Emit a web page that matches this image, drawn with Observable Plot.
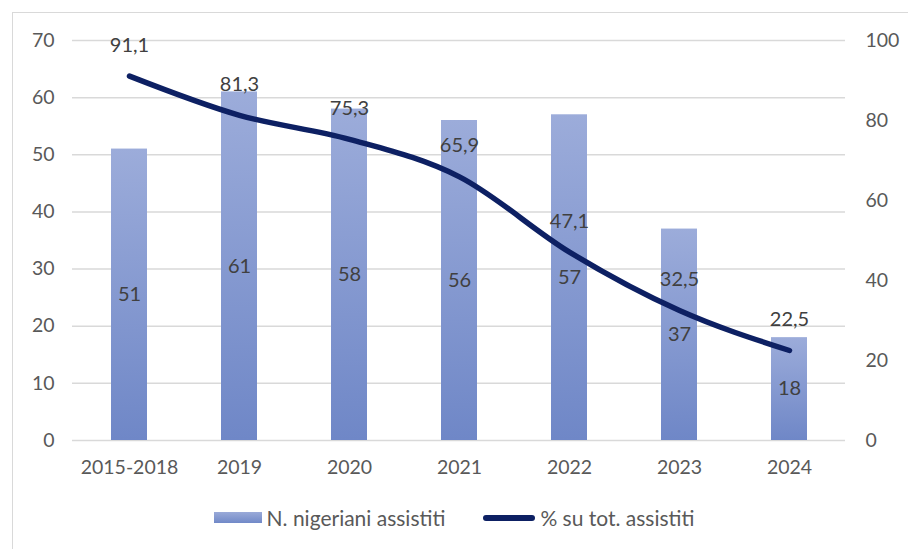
<!DOCTYPE html>
<html>
<head>
<meta charset="utf-8">
<script src="https://cdn.jsdelivr.net/npm/d3@7"></script>
<script src="https://cdn.jsdelivr.net/npm/@observablehq/plot@0.6"></script>
<style>
  html, body { margin: 0; padding: 0; background: #fff; }
  body { width: 908px; height: 549px; overflow: hidden; position: relative; font-family: Lato, "Open Sans", sans-serif; }
  #frame { position: absolute; left: 12px; top: 12px; width: 910px; height: 560px; border: 1.5px solid #d9d9d9; box-sizing: border-box; }
  #chart { position: absolute; left: 0; top: 0; }
  #legend { position: absolute; left: 0; top: 505px; width: 908px; display: flex; justify-content: center; align-items: center; font-size: 21px; color: #595959; }
  .item { display: flex; align-items: center; margin: 0 19px; }
  .sw-bar { width: 48px; height: 11px; background: linear-gradient(#9aaad8, #7189c8); margin-right: 5px; }
  .sw-line { width: 52px; height: 6px; border-radius: 3px; background: #0d2063; margin-right: 5px; }
</style>
</head>
<body>
<div id="frame"></div>
<div id="chart"></div>
<div id="legend">
  <div class="item"><span class="sw-bar"></span><span>N. nigeriani assistiti</span></div>
  <div class="item"><span class="sw-line"></span><span>% su tot. assistiti</span></div>
</div>
<script>
const categories = ["2015-2018", "2019", "2020", "2021", "2022", "2023", "2024"];
const assistiti = [51, 61, 58, 56, 57, 37, 18];
const percentuale = [91.1, 81.3, 75.3, 65.9, 47.1, 32.5, 22.5];
const leftTicks = [0, 10, 20, 30, 40, 50, 60, 70];
const rightTicks = [0, 20, 40, 60, 80, 100];

const ratio = 70 / 100;
const data = categories.map((c, i) => ({cat: c, n: assistiti[i], pct: percentuale[i], pctScaled: percentuale[i] * ratio}));
const fmt = v => String(v).replace(".", ",");

const plot = Plot.plot({
  width: 908,
  height: 490,
  marginTop: 40,
  marginBottom: 50,
  marginLeft: 72,
  marginRight: 63,
  style: {fontFamily: "Lato, 'Open Sans', sans-serif", fontSize: "19.5px", color: "#595959", background: "transparent"},
  x: {domain: categories, padding: 0, label: null},
  y: {domain: [0, 70], label: null},
  marks: [
    Plot.ruleY(leftTicks, {stroke: "#d9d9d9", strokeWidth: 1.5}),
    Plot.barY(data, {x: "cat", y: "n", fill: "url(#barGrad)", insetLeft: 37, insetRight: 37}),
    Plot.text(data, {x: "cat", y: d => d.n / 2, text: d => String(d.n), fill: "#404040", fontSize: 20}),
    Plot.line(data, {x: "cat", y: "pctScaled", stroke: "#0d2063", strokeWidth: 5.5, curve: "monotone-x", strokeLinecap: "round"}),
    Plot.text(data, {x: "cat", y: "pctScaled", text: d => fmt(d.pct), dy: -31, fill: "#404040", fontSize: 20}),
    Plot.axisY(leftTicks, {anchor: "left", tickSize: 0, tickPadding: 18, label: null, fill: "#595959"}),
    Plot.axisY(rightTicks.map(v => v * ratio), {anchor: "right", tickSize: 0, tickPadding: 20, label: null, fill: "#595959", tickFormat: d => String(Math.round(d / ratio))}),
    Plot.axisX({tickSize: 0, tickPadding: 20, label: null, fill: "#595959"})
  ]
});

const svg = d3.select(plot);
const defs = svg.insert("defs", ":first-child");
const grad = defs.append("linearGradient").attr("id", "barGrad").attr("x1", 0).attr("y1", 0).attr("x2", 0).attr("y2", 1);
grad.append("stop").attr("offset", "0%").attr("stop-color", "#9cacda");
grad.append("stop").attr("offset", "100%").attr("stop-color", "#6f87c7");

document.getElementById("chart").appendChild(plot);
</script>
</body>
</html>
